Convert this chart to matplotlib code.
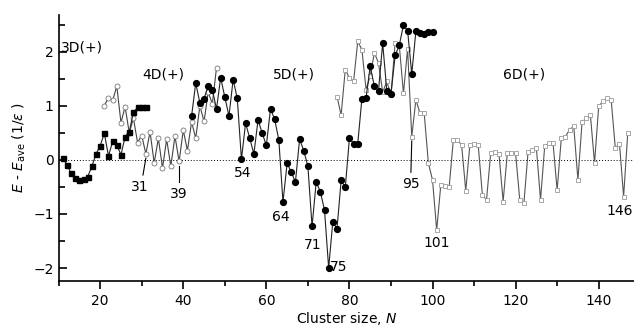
import matplotlib
matplotlib.use("Agg")
import matplotlib.pyplot as plt
import numpy as np

# filled squares (3D)
sq_N = list(range(11, 32))
sq_E = [0.03, -0.09, -0.25, -0.34, -0.38, -0.35, -0.31, -0.12, 0.11, 0.26, 0.49,
        0.07, 0.34, 0.28, 0.09, 0.43, 0.52, 0.88, 0.97, 0.97, 0.97]

# open circles
oc_N = list(range(21, 49))
oc_E = [1.0, 1.15, 1.1, 1.36, 0.69, 0.98, 0.5, 0.77, 0.32, 0.45, 0.11, 0.52,
        -0.06, 0.4, -0.15, 0.38, -0.12, 0.44, -0.03, 0.55, 0.17, 0.7, 0.4, 1.0,
        0.71, 1.25, 1.04, 1.7]

# filled circles
fc_N = list(range(42, 101))
fc_E = [0.81, 1.42, 1.05, 1.13, 1.37, 1.3, 0.94, 1.52, 1.16, 0.81, 1.48, 1.14,
        0.01, 0.68, 0.40, 0.11, 0.74, 0.49, 0.27, 0.94, 0.75, 0.37, -0.78, -0.06,
        -0.23, -0.41, 0.38, 0.17, -0.12, -1.23, -0.41, -0.59, -0.93, -2.0, -1.14,
        -1.28, -0.38, -0.51, 0.4, 0.3, 0.3, 1.13, 1.14, 1.73, 1.36, 1.28, 2.16,
        1.27, 1.22, 1.93, 2.12, 2.49, 2.39, 1.59, 2.38, 2.35, 2.32, 2.36, 2.37]

# open squares
os_N = list(range(77, 148))
os_E = [1.17, 0.83, 1.67, 1.51, 1.45, 2.19, 2.04, 1.3, 1.55, 1.98, 1.79, 1.25,
        1.45, 1.2, 2.16, 2.12, 1.23, 2.05, 0.43, 1.11, 0.86, 0.86, -0.06, -0.37,
        -1.3, -0.46, -0.49, -0.51, 0.36, 0.36, 0.28, -0.57, 0.28, 0.3, 0.27,
        -0.65, -0.74, 0.12, 0.14, 0.11, -0.77, 0.12, 0.12, 0.12, -0.74, -0.8,
        0.15, 0.19, 0.22, -0.74, 0.25, 0.31, 0.32, -0.56, 0.4, 0.43, 0.56, 0.62,
        -0.37, 0.7, 0.77, 0.83, -0.06, 0.99, 1.08, 1.14, 1.11, 0.22, 0.3, -0.68,
        0.5]

region_labels = ["3D(+)", "4D(+)", "5D(+)", "6D(+)"]
region_pos = [(10.5, 2.07), (30.2, 1.57), (61.5, 1.57), (117, 1.57)]

annot_text = ["31", "39", "54", "64", "71", "75", "95", "101", "146"]
annot_xy = [(31, 0.11), (39, -0.03), (54, 0.01), (64, -0.78), (71, -1.23),
            (75, -2.0), (95, 0.43), (101, -1.3), (146, -0.68)]
annot_txt = [(29.5, -0.5), (39, -0.63), (54.2, -0.25), (63.5, -1.05),
             (71.2, -1.58), (77.5, -1.98), (94.8, -0.45), (101, -1.53),
             (145.0, -0.95)]
annot_line = [True, True, False, False, False, False, True, False, False]

fig = plt.figure(figsize=(6.34, 3.31), dpi=100)
ax = fig.add_axes([0.0925, 0.151, 0.9075, 0.804])

ax.axhline(0, color="black", lw=0.7, ls=(0, (1, 2)), zorder=1)

ax.plot(os_N, os_E, color="#555555", lw=0.8, marker="s", ms=3.2, mfc="white",
        mec="#9a9a9a", mew=0.6, zorder=2)
ax.plot(oc_N, oc_E, color="#444444", lw=0.8, marker="o", ms=3.6, mfc="white",
        mec="#777777", mew=0.6, zorder=3)
ax.plot(fc_N, fc_E, color="#222222", lw=0.8, marker="o", ms=4.2, mfc="black",
        mec="black", zorder=4)
ax.plot(sq_N, sq_E, color="#222222", lw=0.8, marker="s", ms=3.6, mfc="black",
        mec="black", zorder=4)

for lab, (x, y) in zip(region_labels, region_pos):
    ax.text(x, y, lab, fontsize=10, ha="left", va="center")

for t, (px, py), (tx, ty), ln in zip(annot_text, annot_xy, annot_txt, annot_line):
    ax.text(tx, ty, t, fontsize=10, ha="center", va="center")
    if ln:
        ax.plot([px, tx + (0.8 if t == "31" else 0)], [py - 0.08, ty + 0.22],
                color="black", lw=0.8)

ax.set_xlim(10, 148.5)
ax.set_ylim(-2.24, 2.68)
ax.set_xticks([20, 40, 60, 80, 100, 120, 140])
ax.set_xticks(np.arange(10, 150, 10), minor=True)
ax.set_yticks([-2, -1, 0, 1, 2])
ax.set_yticks(np.arange(-2, 2.6, 0.5), minor=True)
ax.tick_params(axis="x", which="major", direction="out", length=6, width=1.2, labelsize=10)
ax.tick_params(axis="x", which="minor", direction="out", length=3.5, width=1.2)
ax.tick_params(axis="y", which="major", direction="in", length=6, width=1.2, labelsize=10)
ax.tick_params(axis="y", which="minor", direction="in", length=4, width=1.2)
for s in ["top", "right"]:
    ax.spines[s].set_visible(False)
for s in ["left", "bottom"]:
    ax.spines[s].set_linewidth(1.2)

ax.set_xlabel(r"Cluster size, $N$", fontsize=10, labelpad=1)
ax.set_ylabel(r"$E$ - $E_{\rm ave}$ (1/$\varepsilon$ )", fontsize=10, labelpad=4)

fig.savefig("out.png", dpi=100)
